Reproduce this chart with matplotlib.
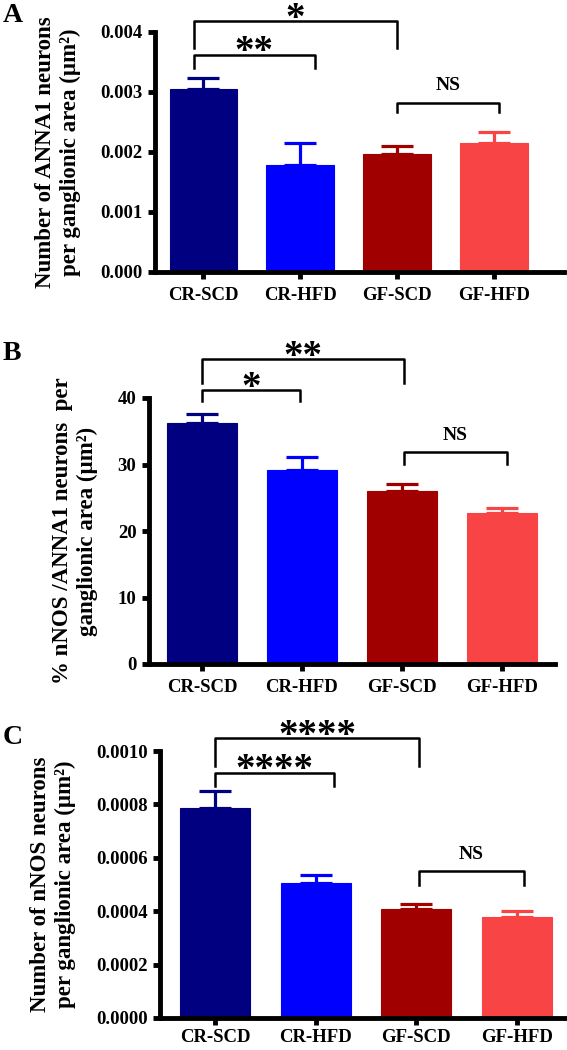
import matplotlib.pyplot as plt

plt.rcParams['font.family'] = ['Liberation Serif', 'DejaVu Serif']
plt.rcParams['font.weight'] = 'bold'

groups = ['CR-SCD', 'CR-HFD', 'GF-SCD', 'GF-HFD']
colors = ['#000080', '#0000FF', '#A00000', '#F84444']

# panel A: ANNA1 neurons per ganglionic area
a_mean = [0.00305, 0.00178, 0.00196, 0.00215]
a_err = [0.00019, 0.00037, 0.00014, 0.00018]
a_ticks = [0.000, 0.001, 0.002, 0.003, 0.004]
a_ticklabels = ['0.000', '0.001', '0.002', '0.003', '0.004']

# panel B: % nNOS / ANNA1
b_mean = [36.3, 29.1, 26.0, 22.7]
b_err = [1.3, 2.0, 1.1, 0.8]
b_ticks = [0, 10, 20, 30, 40]
b_ticklabels = ['0', '10', '20', '30', '40']

# panel C: nNOS neurons per ganglionic area
c_mean = [0.000786, 0.000504, 0.000407, 0.000377]
c_err = [0.000064, 0.000033, 0.000020, 0.000025]
c_ticks = [0.0, 0.0002, 0.0004, 0.0006, 0.0008, 0.0010]
c_ticklabels = ['0.0000', '0.0002', '0.0004', '0.0006', '0.0008', '0.0010']

# brackets: (x1, x2, y_line, y_left_end, y_right_end, text)
a_brackets = [(-0.1, 1.15, 0.00362, 0.00340, 0.00340, '**'),
              (-0.1, 2.0, 0.00418, 0.00373, 0.00373, '*'),
              (2.0, 3.05, 0.00282, 0.00266, 0.00266, 'NS')]
b_brackets = [(0, 0.98, 41.2, 39.5, 39.5, '*'),
              (0, 2.02, 45.8, 42.2, 42.2, '**'),
              (2.02, 3.05, 31.9, 30.1, 30.1, 'NS')]
c_brackets = [(0, 1.18, 0.000919, 0.000869, 0.000869, '****'),
              (0, 2.03, 0.001047, 0.000944, 0.000944, '****'),
              (2.03, 3.07, 0.000550, 0.000499, 0.000499, 'NS')]

W, H = 567, 1050
fig = plt.figure(figsize=(W / 100, H / 100), dpi=100)


def px_axes(left, right, top, bottom):
    return fig.add_axes([left / W, 1 - bottom / H, (right - left) / W, (bottom - top) / H])


def panel(ax, mean, err, ticks, ticklabels, ylim, xlim, ylabel, brackets, letter, letter_xy,
          xpad=6):
    x = range(len(groups))
    ax.bar(x, mean, width=0.7, color=colors, edgecolor=colors, linewidth=0.8, zorder=2)
    for i in x:
        ax.errorbar(i, mean[i], yerr=[[0], [err[i]]], color=colors[i], capsize=11.5,
                    capthick=2.3, elinewidth=2.3, zorder=1)
    ax.set_ylim(*ylim)
    ax.set_xlim(*xlim)
    ax.set_yticks(ticks)
    ax.set_yticklabels(ticklabels, fontsize=13.5, fontweight='bold')
    ax.set_xticks(list(x))
    ax.set_xticklabels(groups, fontsize=13.5, fontweight='bold')
    for s in ['top', 'right']:
        ax.spines[s].set_visible(False)
    for s in ['left', 'bottom']:
        ax.spines[s].set_linewidth(3.5)
    ax.tick_params(width=3.5, length=5, pad=4)
    ax.tick_params(axis='x', pad=xpad)
    ax.set_ylabel(ylabel, fontsize=16.5, fontweight='bold', labelpad=14, linespacing=1.25)
    for x1, x2, yl, ya, yb, txt in brackets:
        ax.plot([x1, x1, x2, x2], [ya, yl, yl, yb], color='black', lw=1.8, clip_on=False)
        if txt == 'NS':
            ax.annotate(txt, ((x1 + x2) / 2, yl), xytext=(0, 6), textcoords='offset points',
                        ha='center', va='bottom', fontsize=14, fontweight='bold',
                        annotation_clip=False)
        else:
            ax.annotate(txt, ((x1 + x2) / 2, yl), xytext=(0, -12), textcoords='offset points',
                        ha='center', va='bottom', fontsize=28, fontweight='bold',
                        annotation_clip=False)
    fig.text(letter_xy[0] / W, 1 - letter_xy[1] / H, letter, fontsize=20,
             fontweight='bold', ha='left', va='center')


axA = px_axes(155, 564, 32, 272)
panel(axA, a_mean, a_err, a_ticks, a_ticklabels, (0, 0.004), (-0.5, 3.72),
      'Number of ANNA1 neurons\nper ganglionic area (µm²)', a_brackets, 'A', (3, 15))

axB = px_axes(149, 555, 398, 664)
panel(axB, b_mean, b_err, b_ticks, b_ticklabels, (0, 40), (-0.53, 3.53),
      '% nNOS /ANNA1 neurons  per\nganglionic area (µm²)', b_brackets, 'B', (3, 354))

axC = px_axes(160, 567, 751, 1018)
panel(axC, c_mean, c_err, c_ticks, c_ticklabels, (0, 0.0010), (-0.55, 3.5),
      'Number of nNOS neurons\nper ganglionic area (µm²)', c_brackets, 'C', (3, 737), xpad=3)

fig.savefig('out.png', dpi=100)
